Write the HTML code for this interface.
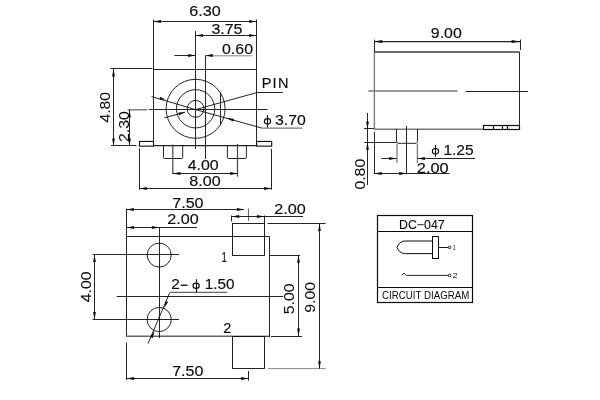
<!DOCTYPE html>
<html><head><meta charset="utf-8"><title>DC-047</title>
<style>
html,body{margin:0;padding:0;background:#fff;}
body{width:600px;height:400px;overflow:hidden;}
svg{display:block;will-change:transform;}
text{font-family:"Liberation Sans",sans-serif;font-kerning:none;}
</style></head><body>
<svg width="600" height="400" viewBox="0 0 600 400">
<rect x="0" y="0" width="600" height="400" fill="#fff"/>
<line x1="110.5" y1="68.5" x2="152.5" y2="68.5" stroke="#0c0c0c" stroke-width="0.9"/>
<line x1="153" y1="69.5" x2="256.5" y2="69.5" stroke="#0c0c0c" stroke-width="0.9"/>
<line x1="153.5" y1="19.5" x2="153.5" y2="145.6" stroke="#0c0c0c" stroke-width="0.9"/>
<line x1="256.5" y1="19.5" x2="256.5" y2="145.6" stroke="#0c0c0c" stroke-width="0.9"/>
<line x1="111" y1="145.5" x2="136.4" y2="145.5" stroke="#0c0c0c" stroke-width="0.9"/>
<rect x="139.5" y="141.45" width="14.0" height="4.7" stroke="#0c0c0c" stroke-width="1.1" fill="none"/>
<line x1="153.5" y1="145.6" x2="256.5" y2="145.6" stroke="#222" stroke-width="1.2"/>
<rect x="256.6" y="141.45" width="15.1" height="4.7" stroke="#0c0c0c" stroke-width="1.1" fill="none"/>
<path d="M163.5,145.6 V157.5 Q163.5,158.5 164.5,158.5 H181.7 Q182.7,158.5 182.7,157.5 V145.6" stroke="#0c0c0c" stroke-width="0.9" fill="none"/>
<path d="M227.4,145.6 V157.5 Q227.4,158.5 228.4,158.5 H245.4 Q246.4,158.5 246.4,157.5 V145.6" stroke="#0c0c0c" stroke-width="0.9" fill="none"/>
<line x1="195.5" y1="31" x2="195.5" y2="149" stroke="#0c0c0c" stroke-width="0.9"/>
<line x1="205.5" y1="55" x2="205.5" y2="159" stroke="#0c0c0c" stroke-width="0.9"/>
<line x1="127.5" y1="109.8" x2="147.5" y2="109.8" stroke="#555" stroke-width="1.1"/>
<line x1="149" y1="109.5" x2="267.6" y2="109.5" stroke="#0c0c0c" stroke-width="0.9"/>
<circle cx="195.6" cy="108.8" r="29.5" stroke="#0c0c0c" stroke-width="0.9" fill="none"/>
<circle cx="195.6" cy="108.8" r="19.15" stroke="#0c0c0c" stroke-width="0.9" fill="none"/>
<circle cx="195.6" cy="108.85" r="8.4" stroke="#0c0c0c" stroke-width="0.9" fill="none"/>
<line x1="220.5" y1="92.6" x2="220.5" y2="125.2" stroke="#0c0c0c" stroke-width="0.9"/>
<path d="M151.6,96.6 L195.55,109.6 L261.6,128" stroke="#0c0c0c" stroke-width="0.9" fill="none"/>
<line x1="261.2" y1="128.2" x2="302.5" y2="128.2" stroke="#7a7a7a" stroke-width="1.3"/>
<path d="M164.5,117.8 L185,112.2" stroke="#0c0c0c" stroke-width="0.9" fill="none"/>
<path d="M195.55,109.6 L256.5,92.7" stroke="#0c0c0c" stroke-width="0.9" fill="none"/>
<line x1="256.5" y1="92.5" x2="283" y2="92.5" stroke="#0c0c0c" stroke-width="0.9"/>
<polygon points="165.60,99.70 159.45,99.36 160.24,96.67" fill="#0c0c0c"/>
<polygon points="226.40,118.10 233.90,118.75 233.15,121.45" fill="#0c0c0c"/>
<polygon points="185.20,112.15 179.26,115.14 178.56,112.43" fill="#0c0c0c"/>
<line x1="153.5" y1="21.5" x2="256.5" y2="21.5" stroke="#0c0c0c" stroke-width="0.9"/>
<polygon points="153.50,21.50 160.90,20.10 160.90,22.90" fill="#0c0c0c"/>
<polygon points="256.50,21.50 249.10,22.90 249.10,20.10" fill="#0c0c0c"/>
<line x1="195.55" y1="35.5" x2="256.5" y2="35.5" stroke="#0c0c0c" stroke-width="0.9"/>
<polygon points="195.55,35.50 202.95,34.10 202.95,36.90" fill="#0c0c0c"/>
<polygon points="256.50,35.50 249.10,36.90 249.10,34.10" fill="#0c0c0c"/>
<line x1="174.4" y1="55.5" x2="195.55" y2="55.5" stroke="#0c0c0c" stroke-width="0.9"/>
<polygon points="195.55,55.50 188.15,56.90 188.15,54.10" fill="#0c0c0c"/>
<line x1="205.4" y1="55.8" x2="252.4" y2="55.8" stroke="#7a7a7a" stroke-width="0.9"/>
<polygon points="205.40,55.50 212.80,54.10 212.80,56.90" fill="#0c0c0c"/>
<line x1="113.5" y1="69" x2="113.5" y2="145.6" stroke="#0c0c0c" stroke-width="0.9"/>
<polygon points="113.50,69.00 114.90,76.40 112.10,76.40" fill="#0c0c0c"/>
<polygon points="113.50,145.80 112.10,138.40 114.90,138.40" fill="#0c0c0c"/>
<line x1="129.5" y1="109.8" x2="129.5" y2="145.6" stroke="#0c0c0c" stroke-width="0.9"/>
<polygon points="129.50,145.80 128.10,138.40 130.90,138.40" fill="#0c0c0c"/>
<polygon points="129.50,109.90 130.90,117.30 128.10,117.30" fill="#0c0c0c"/>
<line x1="172.8" y1="144.4" x2="172.8" y2="174" stroke="#444" stroke-width="1.2"/>
<line x1="237.5" y1="144" x2="237.5" y2="176.6" stroke="#444" stroke-width="1.2"/>
<line x1="173" y1="173.5" x2="237.6" y2="173.5" stroke="#0c0c0c" stroke-width="0.9"/>
<polygon points="173.00,173.50 180.40,172.10 180.40,174.90" fill="#0c0c0c"/>
<polygon points="237.60,173.50 230.20,174.90 230.20,172.10" fill="#0c0c0c"/>
<line x1="139.5" y1="148.4" x2="139.5" y2="189.6" stroke="#0c0c0c" stroke-width="0.9"/>
<line x1="271.5" y1="148.8" x2="271.5" y2="189.6" stroke="#0c0c0c" stroke-width="0.9"/>
<line x1="139.5" y1="188.5" x2="271.5" y2="188.5" stroke="#0c0c0c" stroke-width="0.9"/>
<polygon points="139.50,188.50 146.90,187.10 146.90,189.90" fill="#0c0c0c"/>
<polygon points="271.50,188.50 264.10,189.90 264.10,187.10" fill="#0c0c0c"/>
<text transform="translate(189.18,16.3) scale(1.1710,1)" font-size="13.8" fill="#0c0c0c" stroke="#0c0c0c" stroke-width="0.14">6.30</text>
<text transform="translate(211.39,33.7) scale(1.1571,1)" font-size="13.8" fill="#0c0c0c" stroke="#0c0c0c" stroke-width="0.14">3.75</text>
<text transform="translate(221.98,54.3) scale(1.1559,1)" font-size="13.8" fill="#0c0c0c" stroke="#0c0c0c" stroke-width="0.14">0.60</text>
<text transform="translate(109.8,122.56) rotate(-90) scale(1.1345,1)" font-size="13.8" fill="#0c0c0c" stroke="#0c0c0c" stroke-width="0.05">4.80</text>
<text transform="translate(128.8,142.0) rotate(-90) scale(1.1512,1)" font-size="13.8" fill="#0c0c0c" stroke="#0c0c0c" stroke-width="0.05">2.30</text>
<text transform="translate(187.63,169.7) scale(1.1537,1)" font-size="13.8" fill="#0c0c0c" stroke="#0c0c0c" stroke-width="0.14">4.00</text>
<text transform="translate(189.3,186.4) scale(1.1664,1)" font-size="13.8" fill="#0c0c0c" stroke="#0c0c0c" stroke-width="0.14">8.00</text>
<text transform="translate(261.71,87.5) scale(1.0232,1)" font-size="14.2" fill="#0c0c0c" stroke="#0c0c0c" stroke-width="0.15" letter-spacing="1.2">PIN</text>
<ellipse cx="267.5" cy="121.3" rx="3.1" ry="2.75" stroke="#0c0c0c" stroke-width="1.15" fill="none"/>
<line x1="267.5" y1="115" x2="267.5" y2="127.5" stroke="#0c0c0c" stroke-width="1.15"/>
<text transform="translate(275.0,124.7) scale(1.1475,1)" font-size="13.8" fill="#0c0c0c" stroke="#0c0c0c" stroke-width="0.14">3.70</text>
<path d="M126.5,336.5 V236.5 H269.5 V336.5" stroke="#0c0c0c" stroke-width="0.9" fill="none"/>
<line x1="126" y1="336.2" x2="232.5" y2="336.2" stroke="#666" stroke-width="1.4"/>
<line x1="232.5" y1="336.3" x2="270" y2="336.3" stroke="#0c0c0c" stroke-width="1.1"/>
<rect x="232.5" y="223.5" width="32.0" height="32.0" stroke="#0c0c0c" stroke-width="0.9" fill="none"/>
<rect x="232.5" y="336.5" width="32.0" height="32.0" stroke="#0c0c0c" stroke-width="0.9" fill="none"/>
<circle cx="159.2" cy="255.1" r="12" stroke="#0c0c0c" stroke-width="0.9" fill="none"/>
<circle cx="159.2" cy="319.5" r="12.1" stroke="#0c0c0c" stroke-width="0.9" fill="none"/>
<line x1="159.5" y1="227.6" x2="159.5" y2="338" stroke="#0c0c0c" stroke-width="0.9"/>
<line x1="92.6" y1="254.5" x2="179" y2="254.5" stroke="#0c0c0c" stroke-width="0.9"/>
<line x1="92.6" y1="319.5" x2="179" y2="319.5" stroke="#0c0c0c" stroke-width="0.9"/>
<line x1="116.6" y1="296.5" x2="283.2" y2="296.5" stroke="#0c0c0c" stroke-width="0.9"/>
<path d="M148,343.6 L169.6,293" stroke="#0c0c0c" stroke-width="0.9" fill="none"/>
<line x1="169.8" y1="292.4" x2="227" y2="292.4" stroke="#666" stroke-width="1.3"/>
<polygon points="163.95,308.37 165.57,301.02 168.14,302.12" fill="#0c0c0c"/>
<polygon points="154.45,330.63 152.83,337.98 150.26,336.88" fill="#0c0c0c"/>
<line x1="126.5" y1="208.6" x2="126.5" y2="236.6" stroke="#0c0c0c" stroke-width="0.9"/>
<line x1="126.6" y1="209.5" x2="244" y2="209.5" stroke="#0c0c0c" stroke-width="0.9"/>
<polygon points="126.60,209.50 134.00,208.10 134.00,210.90" fill="#0c0c0c"/>
<polygon points="244.30,209.50 236.90,210.90 236.90,208.10" fill="#0c0c0c"/>
<line x1="248.5" y1="208.5" x2="248.5" y2="221" stroke="#555" stroke-width="0.9"/>
<line x1="126.6" y1="227.5" x2="197" y2="227.5" stroke="#0c0c0c" stroke-width="0.9"/>
<polygon points="126.60,227.50 134.00,226.10 134.00,228.90" fill="#0c0c0c"/>
<polygon points="159.30,227.50 151.90,228.90 151.90,226.10" fill="#0c0c0c"/>
<line x1="231.5" y1="215.5" x2="231.5" y2="221.5" stroke="#0c0c0c" stroke-width="0.9"/>
<line x1="264.5" y1="215.5" x2="264.5" y2="223.6" stroke="#0c0c0c" stroke-width="0.9"/>
<line x1="231.5" y1="216.5" x2="303" y2="216.5" stroke="#0c0c0c" stroke-width="0.9"/>
<polygon points="231.80,216.50 239.20,215.10 239.20,217.90" fill="#0c0c0c"/>
<polygon points="264.40,216.50 257.00,217.90 257.00,215.10" fill="#0c0c0c"/>
<line x1="267.6" y1="223.5" x2="325.6" y2="223.5" stroke="#0c0c0c" stroke-width="0.9"/>
<line x1="268" y1="368.6" x2="325.6" y2="368.6" stroke="#7a7a7a" stroke-width="0.9"/>
<line x1="319.5" y1="223.6" x2="319.5" y2="368.6" stroke="#0c0c0c" stroke-width="0.9"/>
<polygon points="319.50,223.60 320.90,231.00 318.10,231.00" fill="#0c0c0c"/>
<polygon points="319.50,368.60 318.10,361.20 320.90,361.20" fill="#0c0c0c"/>
<line x1="269.4" y1="255.5" x2="300" y2="255.5" stroke="#0c0c0c" stroke-width="0.9"/>
<line x1="271" y1="336.5" x2="302" y2="336.5" stroke="#0c0c0c" stroke-width="0.9"/>
<line x1="298.5" y1="255.4" x2="298.5" y2="336" stroke="#0c0c0c" stroke-width="0.9"/>
<polygon points="298.50,255.40 299.90,262.80 297.10,262.80" fill="#0c0c0c"/>
<polygon points="298.50,336.00 297.10,328.60 299.90,328.60" fill="#0c0c0c"/>
<line x1="94.5" y1="254.6" x2="94.5" y2="319.4" stroke="#0c0c0c" stroke-width="0.9"/>
<polygon points="94.50,254.60 95.90,262.00 93.10,262.00" fill="#0c0c0c"/>
<polygon points="94.50,319.40 93.10,312.00 95.90,312.00" fill="#0c0c0c"/>
<line x1="126.5" y1="342.6" x2="126.5" y2="380" stroke="#0c0c0c" stroke-width="0.9"/>
<line x1="248.5" y1="371" x2="248.5" y2="380.6" stroke="#0c0c0c" stroke-width="0.9"/>
<line x1="126.6" y1="378.5" x2="248.4" y2="378.5" stroke="#0c0c0c" stroke-width="0.9"/>
<polygon points="126.60,378.50 134.00,377.10 134.00,379.90" fill="#0c0c0c"/>
<polygon points="248.40,378.50 241.00,379.90 241.00,377.10" fill="#0c0c0c"/>
<text transform="translate(172.17,207.7) scale(1.1713,1)" font-size="13.8" fill="#0c0c0c" stroke="#0c0c0c" stroke-width="0.14">7.50</text>
<text transform="translate(167.19,223.7) scale(1.1707,1)" font-size="13.8" fill="#0c0c0c" stroke="#0c0c0c" stroke-width="0.14">2.00</text>
<text transform="translate(274.19,213.7) scale(1.1707,1)" font-size="13.8" fill="#0c0c0c" stroke="#0c0c0c" stroke-width="0.14">2.00</text>
<text transform="translate(221.73,262.2) scale(0.6387,1)" font-size="13.8" fill="#0c0c0c" stroke="#0c0c0c" stroke-width="0.25">1</text>
<text transform="translate(223.27,332.7) scale(1.0498,1)" font-size="13.8" fill="#0c0c0c" stroke="#0c0c0c" stroke-width="0.14">2</text>
<text transform="translate(171.23,289.1) scale(1.1134,1)" font-size="13.8" fill="#0c0c0c" stroke="#0c0c0c" stroke-width="0.14">2</text>
<line x1="180.8" y1="285.2" x2="187.5" y2="285.2" stroke="#0c0c0c" stroke-width="1.3"/>
<ellipse cx="196.1" cy="285.8" rx="3.1" ry="2.6" stroke="#0c0c0c" stroke-width="1.15" fill="none"/>
<line x1="196.5" y1="279.2" x2="196.5" y2="292.2" stroke="#0c0c0c" stroke-width="1.15"/>
<text transform="translate(204.84,289.1) scale(1.1081,1)" font-size="13.8" fill="#0c0c0c" stroke="#0c0c0c" stroke-width="0.14">1.50</text>
<text transform="translate(91,302.37) rotate(-90) scale(1.1537,1)" font-size="13.8" fill="#0c0c0c" stroke="#0c0c0c" stroke-width="0.05">4.00</text>
<text transform="translate(293.6,314.23) rotate(-90) scale(1.1449,1)" font-size="13.8" fill="#0c0c0c" stroke="#0c0c0c" stroke-width="0.05">5.00</text>
<text transform="translate(314.6,312.74) rotate(-90) scale(1.1491,1)" font-size="13.8" fill="#0c0c0c" stroke="#0c0c0c" stroke-width="0.05">9.00</text>
<text transform="translate(172.18,375.5) scale(1.1635,1)" font-size="13.8" fill="#0c0c0c" stroke="#0c0c0c" stroke-width="0.14">7.50</text>
<line x1="374.4" y1="52" x2="374.4" y2="129.2" stroke="#7a7a7a" stroke-width="1.4"/>
<line x1="374.4" y1="52" x2="519.5" y2="52" stroke="#3a3a3a" stroke-width="1.5"/>
<line x1="519.5" y1="52" x2="519.5" y2="129.6" stroke="#0c0c0c" stroke-width="0.9"/>
<line x1="374" y1="129.3" x2="483.2" y2="129.3" stroke="#7a7a7a" stroke-width="1.5"/>
<line x1="368.4" y1="91.0" x2="457.5" y2="91.0" stroke="#7a7a7a" stroke-width="1.4"/>
<line x1="465.6" y1="91.5" x2="528" y2="91.5" stroke="#0c0c0c" stroke-width="0.9"/>
<rect x="483.5" y="125.5" width="36.0" height="4.0" stroke="#0c0c0c" stroke-width="1.2" fill="none"/>
<line x1="493.5" y1="125" x2="493.5" y2="129.6" stroke="#0c0c0c" stroke-width="1.2"/>
<line x1="502.5" y1="125" x2="502.5" y2="129.6" stroke="#0c0c0c" stroke-width="1.2"/>
<line x1="507.5" y1="125" x2="507.5" y2="129.6" stroke="#0c0c0c" stroke-width="1.2"/>
<path d="M396.5,129 V141.7 L398,143.3 H416 L417.5,141.7 V129" stroke="#0c0c0c" stroke-width="0.9" fill="none"/>
<line x1="406.5" y1="126" x2="406.5" y2="174.4" stroke="#0c0c0c" stroke-width="0.9"/>
<line x1="374.5" y1="39.6" x2="374.5" y2="52" stroke="#0c0c0c" stroke-width="0.9"/>
<line x1="520.5" y1="39.6" x2="520.5" y2="50" stroke="#0c0c0c" stroke-width="0.9"/>
<line x1="374" y1="41.6" x2="520" y2="41.6" stroke="#222" stroke-width="1.1"/>
<polygon points="374.20,41.50 382.40,40.10 382.40,42.90" fill="#0c0c0c"/>
<polygon points="519.80,41.50 511.60,42.90 511.60,40.10" fill="#0c0c0c"/>
<line x1="367.5" y1="113" x2="367.5" y2="185" stroke="#0c0c0c" stroke-width="0.9"/>
<polygon points="367.50,129.00 366.10,121.60 368.90,121.60" fill="#0c0c0c"/>
<polygon points="367.50,142.40 368.90,149.80 366.10,149.80" fill="#0c0c0c"/>
<line x1="364" y1="128.5" x2="374" y2="128.5" stroke="#0c0c0c" stroke-width="0.9"/>
<line x1="364.4" y1="142.5" x2="396.6" y2="142.5" stroke="#0c0c0c" stroke-width="0.9"/>
<line x1="374.5" y1="132" x2="374.5" y2="174" stroke="#0c0c0c" stroke-width="0.9"/>
<line x1="397" y1="143.5" x2="397" y2="163" stroke="#7a7a7a" stroke-width="1.3"/>
<line x1="417.4" y1="143.5" x2="417.4" y2="163" stroke="#7a7a7a" stroke-width="1.3"/>
<line x1="381.4" y1="158.5" x2="396.6" y2="158.5" stroke="#0c0c0c" stroke-width="0.9"/>
<polygon points="396.60,158.50 389.20,159.90 389.20,157.10" fill="#0c0c0c"/>
<line x1="417.6" y1="158.5" x2="475" y2="158.5" stroke="#0c0c0c" stroke-width="0.9"/>
<polygon points="417.60,158.50 425.00,157.10 425.00,159.90" fill="#0c0c0c"/>
<line x1="374.4" y1="173.5" x2="449.4" y2="173.5" stroke="#0c0c0c" stroke-width="0.9"/>
<polygon points="374.40,173.50 381.80,172.10 381.80,174.90" fill="#0c0c0c"/>
<polygon points="406.60,173.50 399.20,174.90 399.20,172.10" fill="#0c0c0c"/>
<text transform="translate(430.85,37.5) scale(1.1530,1)" font-size="13.8" fill="#0c0c0c" stroke="#0c0c0c" stroke-width="0.14">9.00</text>
<ellipse cx="435.5" cy="151.2" rx="3.1" ry="2.75" stroke="#0c0c0c" stroke-width="1.15" fill="none"/>
<line x1="435.5" y1="145" x2="435.5" y2="156.8" stroke="#0c0c0c" stroke-width="1.15"/>
<text transform="translate(443.42,154.5) scale(1.1257,1)" font-size="13.8" fill="#0c0c0c" stroke="#0c0c0c" stroke-width="0.14">1.25</text>
<text transform="translate(416.78,172.5) scale(1.1863,1)" font-size="13.8" fill="#0c0c0c" stroke="#0c0c0c" stroke-width="0.14">2.00</text>
<text transform="translate(364.5,189.62) rotate(-90) scale(1.1481,1)" font-size="13.8" fill="#0c0c0c" stroke="#0c0c0c" stroke-width="0.05">0.80</text>
<rect x="377.5" y="215.5" width="95.0" height="87.0" stroke="#0c0c0c" stroke-width="1.2" fill="none"/>
<line x1="377.6" y1="231.5" x2="472.6" y2="231.5" stroke="#0c0c0c" stroke-width="1.2"/>
<line x1="377.6" y1="287.5" x2="472.6" y2="287.5" stroke="#0c0c0c" stroke-width="1.2"/>
<text transform="translate(398.99,229.2) scale(1.0202,1)" font-size="12.1" fill="#0c0c0c" stroke="#0c0c0c" stroke-width="0.1">DC−047</text>
<text transform="translate(382.01,299.1) scale(0.9625,1)" font-size="10.1" fill="#0c0c0c">CIRCUIT DIAGRAM</text>
<path d="M432.4,241 H404.5 Q399.5,241.3 397,247.3 Q399.5,253.3 404.5,253.6 H432.4" stroke="#0c0c0c" stroke-width="1.0" fill="none"/>
<rect x="432.5" y="236.5" width="6.0" height="22.0" stroke="#0c0c0c" stroke-width="1.0" fill="none"/>
<line x1="438.4" y1="247.5" x2="448.4" y2="247.5" stroke="#0c0c0c" stroke-width="0.95"/>
<circle cx="449.6" cy="247.4" r="1.3" stroke="#0c0c0c" stroke-width="0.9" fill="none"/>
<circle cx="449.6" cy="275.4" r="1.3" stroke="#0c0c0c" stroke-width="0.9" fill="none"/>
<path d="M401.6,275.4 L404,273 L406.4,275.4 H448.4" stroke="#0c0c0c" stroke-width="0.9" fill="none"/>
<text transform="translate(452.81,250) scale(0.7850,1)" font-size="6.5" fill="#0c0c0c">1</text>
<text transform="translate(452.54,277.6) scale(1.4184,1)" font-size="6.5" fill="#0c0c0c">2</text>
</svg>
</body></html>
